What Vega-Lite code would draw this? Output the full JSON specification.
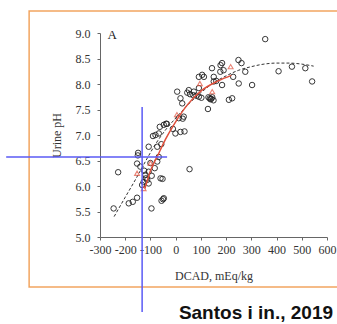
{
  "$schema": "https://vega.github.io/schema/vega-lite/v6.json",
  "width": 227,
  "height": 204,
  "autosize": {"type": "none"},
  "padding": {"left": 100, "top": 33, "right": 10, "bottom": 87},
  "background": "white",
  "config": {
    "view": {"stroke": null},
    "axis": {"grid": false, "labelFont": "Liberation Serif", "labelFontSize": 12, "labelColor": "#333", "labelOverlap": false,
      "labelFlush": false, "tickSize": 3, "tickColor": "#666", "domainColor": "#666",
      "titleFont": "Liberation Serif", "titleFontSize": 12, "titleFontWeight": "normal", "titleColor": "#333"},
    "axisX": {"labelPadding": 4, "titlePadding": 15, "labelExpr": "toString(datum.value)"},
    "axisY": {"labelPadding": 7, "titlePadding": 12}
  },
  "datasets": {
    "points": [
      {"dcad": -246, "ph": 5.56}, {"dcad": -228, "ph": 6.27}, {"dcad": -186, "ph": 5.66}, {"dcad": -170, "ph": 5.69},
      {"dcad": -153, "ph": 5.77}, {"dcad": -96, "ph": 5.56}, {"dcad": -56, "ph": 5.71}, {"dcad": -50, "ph": 5.74},
      {"dcad": -47, "ph": 5.76}, {"dcad": -52, "ph": 6.14}, {"dcad": 55, "ph": 6.33},
      {"dcad": -149, "ph": 6.65}, {"dcad": -150, "ph": 6.6}, {"dcad": -153, "ph": 6.44}, {"dcad": -140, "ph": 6.38},
      {"dcad": -120, "ph": 6.22}, {"dcad": -113, "ph": 6.12}, {"dcad": -127, "ph": 6.08}, {"dcad": -133, "ph": 6.02},
      {"dcad": -107, "ph": 6.05}, {"dcad": -107, "ph": 6.28}, {"dcad": -100, "ph": 6.45}, {"dcad": -83, "ph": 6.35},
      {"dcad": -67, "ph": 6.57}, {"dcad": -73, "ph": 6.48}, {"dcad": -60, "ph": 6.15}, {"dcad": -107, "ph": 6.77},
      {"dcad": -73, "ph": 6.77}, {"dcad": -118, "ph": 6.15}, {"dcad": -125, "ph": 6.3}, {"dcad": -95, "ph": 6.2},
      {"dcad": -80, "ph": 7.0}, {"dcad": -67, "ph": 7.03}, {"dcad": -47, "ph": 7.2}, {"dcad": -35, "ph": 7.22},
      {"dcad": -1, "ph": 7.03}, {"dcad": 19, "ph": 7.06}, {"dcad": -63, "ph": 7.16}, {"dcad": -38, "ph": 7.22},
      {"dcad": -11, "ph": 7.12}, {"dcad": 35, "ph": 7.07}, {"dcad": 28, "ph": 7.32}, {"dcad": 12, "ph": 7.33},
      {"dcad": -90, "ph": 6.98}, {"dcad": -57, "ph": 6.82}, {"dcad": 32, "ph": 7.36},
      {"dcad": 6, "ph": 7.85}, {"dcad": 19, "ph": 7.72}, {"dcad": 26, "ph": 7.62}, {"dcad": 46, "ph": 7.83},
      {"dcad": 57, "ph": 7.8}, {"dcad": 70, "ph": 7.78}, {"dcad": 82, "ph": 7.77}, {"dcad": 92, "ph": 7.92},
      {"dcad": 102, "ph": 7.73}, {"dcad": 92, "ph": 8.14}, {"dcad": 105, "ph": 8.18}, {"dcad": 112, "ph": 8.14},
      {"dcad": 128, "ph": 7.51}, {"dcad": 130, "ph": 7.74}, {"dcad": 135, "ph": 7.72}, {"dcad": 141, "ph": 7.71},
      {"dcad": 145, "ph": 7.74}, {"dcad": 138, "ph": 7.7}, {"dcad": 150, "ph": 7.68}, {"dcad": 144, "ph": 8.31},
      {"dcad": 151, "ph": 8.05}, {"dcad": 151, "ph": 8.14}, {"dcad": 178, "ph": 8.37}, {"dcad": 177, "ph": 8.24},
      {"dcad": 190, "ph": 8.27}, {"dcad": 184, "ph": 8.41}, {"dcad": 184, "ph": 7.98}, {"dcad": 161, "ph": 8.06},
      {"dcad": 211, "ph": 7.69}, {"dcad": 224, "ph": 7.72}, {"dcad": 52, "ph": 7.88}, {"dcad": 72, "ph": 7.85},
      {"dcad": 92, "ph": 7.75}, {"dcad": 228, "ph": 8.14},
      {"dcad": 250, "ph": 8.01}, {"dcad": 249, "ph": 8.47}, {"dcad": 261, "ph": 8.41}, {"dcad": 276, "ph": 8.24},
      {"dcad": 303, "ph": 7.98}, {"dcad": 355, "ph": 8.88}, {"dcad": 408, "ph": 8.25}, {"dcad": 461, "ph": 8.34},
      {"dcad": 514, "ph": 8.31}, {"dcad": 541, "ph": 8.05}
    ],
    "tri": [
      {"dcad": -127, "ph": 5.95}, {"dcad": -153, "ph": 6.25}, {"dcad": -100, "ph": 6.45}, {"dcad": 5, "ph": 7.4},
      {"dcad": 96, "ph": 8.01}, {"dcad": 145, "ph": 7.85}, {"dcad": 218, "ph": 8.34}
    ],
    "redline": [
      {"dcad": -122, "ph": 5.95}, {"dcad": -100, "ph": 6.3}, {"dcad": -71, "ph": 6.6}, {"dcad": -40, "ph": 6.92},
      {"dcad": -5, "ph": 7.22}, {"dcad": 48, "ph": 7.6}, {"dcad": 102, "ph": 7.87}, {"dcad": 168, "ph": 8.06},
      {"dcad": 221, "ph": 8.17}
    ],
    "fit": [
      {"dcad": -244, "ph": 5.4}, {"dcad": -200, "ph": 5.78}, {"dcad": -160, "ph": 6.12}, {"dcad": -120, "ph": 6.48},
      {"dcad": -80, "ph": 6.82}, {"dcad": -40, "ph": 7.1}, {"dcad": 0, "ph": 7.33}, {"dcad": 50, "ph": 7.6},
      {"dcad": 100, "ph": 7.83}, {"dcad": 150, "ph": 8.02}, {"dcad": 200, "ph": 8.16}, {"dcad": 250, "ph": 8.27},
      {"dcad": 300, "ph": 8.34}, {"dcad": 350, "ph": 8.39}, {"dcad": 400, "ph": 8.41}, {"dcad": 450, "ph": 8.41},
      {"dcad": 500, "ph": 8.39}, {"dcad": 547, "ph": 8.35}
    ]
  },
  "layer": [
    {
      "data": {"values": [{}]},
      "mark": {"type": "rect", "fill": null, "stroke": "#f2a560", "strokeWidth": 1.5, "clip": false},
      "encoding": {
        "x": {"datum": -581, "type": "quantitative", "scale": {"domain": [-300, 600], "nice": false, "zero": false},
          "axis": {"values": [-300, -200, -100, 0, 100, 200, 300, 400, 500, 600], "title": "DCAD, mEq/kg"}},
        "x2": {"datum": 660},
        "y": {"datum": 9.43, "type": "quantitative", "scale": {"domain": [5, 9], "nice": false, "zero": false},
          "axis": {"values": [5, 5.5, 6, 6.5, 7, 7.5, 8, 8.5, 9], "format": ".1f", "title": "Urine pH"}},
        "y2": {"datum": 4.02}
      }
    },
    {
      "data": {"name": "fit"},
      "mark": {"type": "line", "color": "#333", "strokeWidth": 1, "strokeDash": [3, 2], "interpolate": "monotone"},
      "encoding": {
        "x": {"field": "dcad", "type": "quantitative", "axis": {"values": [-300, -200, -100, 0, 100, 200, 300, 400, 500, 600], "title": "DCAD, mEq/kg"}},
        "y": {"field": "ph", "type": "quantitative", "axis": {"values": [5, 5.5, 6, 6.5, 7, 7.5, 8, 8.5, 9], "format": ".1f", "title": "Urine pH"}}
      }
    },
    {
      "data": {"name": "points"},
      "mark": {"type": "point", "shape": "circle", "filled": false, "size": 30, "stroke": "#222", "strokeWidth": 1, "opacity": 0.9},
      "encoding": {
        "x": {"field": "dcad", "type": "quantitative", "axis": {"values": [-300, -200, -100, 0, 100, 200, 300, 400, 500, 600], "title": "DCAD, mEq/kg"}},
        "y": {"field": "ph", "type": "quantitative", "axis": {"values": [5, 5.5, 6, 6.5, 7, 7.5, 8, 8.5, 9], "format": ".1f", "title": "Urine pH"}}
      }
    },
    {
      "data": {"name": "redline"},
      "mark": {"type": "line", "color": "#e0503c", "strokeWidth": 1.5, "interpolate": "monotone"},
      "encoding": {
        "x": {"field": "dcad", "type": "quantitative", "axis": {"values": [-300, -200, -100, 0, 100, 200, 300, 400, 500, 600], "title": "DCAD, mEq/kg"}},
        "y": {"field": "ph", "type": "quantitative", "axis": {"values": [5, 5.5, 6, 6.5, 7, 7.5, 8, 8.5, 9], "format": ".1f", "title": "Urine pH"}}
      }
    },
    {
      "data": {"name": "tri"},
      "mark": {"type": "point", "shape": "triangle-up", "filled": false, "size": 24, "stroke": "#e0503c", "strokeWidth": 1.1},
      "encoding": {
        "x": {"field": "dcad", "type": "quantitative", "axis": {"values": [-300, -200, -100, 0, 100, 200, 300, 400, 500, 600], "title": "DCAD, mEq/kg"}},
        "y": {"field": "ph", "type": "quantitative", "axis": {"values": [5, 5.5, 6, 6.5, 7, 7.5, 8, 8.5, 9], "format": ".1f", "title": "Urine pH"}}
      }
    },
    {
      "data": {"values": [{}]},
      "mark": {"type": "rule", "color": "#5a5af5", "strokeWidth": 1.5, "clip": false},
      "encoding": {
        "x": {"datum": -133, "type": "quantitative", "axis": {"values": [-300, -200, -100, 0, 100, 200, 300, 400, 500, 600], "title": "DCAD, mEq/kg"}},
        "y": {"datum": 7.55, "type": "quantitative", "axis": {"values": [5, 5.5, 6, 6.5, 7, 7.5, 8, 8.5, 9], "format": ".1f", "title": "Urine pH"}},
        "y2": {"datum": 3.53}
      }
    },
    {
      "data": {"values": [{}]},
      "mark": {"type": "rule", "color": "#5a5af5", "strokeWidth": 1.5, "clip": false},
      "encoding": {
        "y": {"datum": 6.57, "type": "quantitative", "axis": {"values": [5, 5.5, 6, 6.5, 7, 7.5, 8, 8.5, 9], "format": ".1f", "title": "Urine pH"}},
        "x": {"datum": -672, "type": "quantitative", "axis": {"values": [-300, -200, -100, 0, 100, 200, 300, 400, 500, 600], "title": "DCAD, mEq/kg"}},
        "x2": {"datum": -34}
      }
    },
    {
      "data": {"values": [{}]},
      "mark": {"type": "text", "text": "A", "font": "Liberation Serif", "fontSize": 13, "align": "center", "baseline": "middle", "color": "#222"},
      "encoding": {
        "x": {"datum": -252, "type": "quantitative", "axis": {"values": [-300, -200, -100, 0, 100, 200, 300, 400, 500, 600], "title": "DCAD, mEq/kg"}},
        "y": {"datum": 8.96, "type": "quantitative", "axis": {"values": [5, 5.5, 6, 6.5, 7, 7.5, 8, 8.5, 9], "format": ".1f", "title": "Urine pH"}}
      }
    },
    {
      "data": {"values": [{}]},
      "mark": {"type": "text", "text": "Santos i in., 2019", "font": "Liberation Sans", "fontSize": 19, "fontWeight": "bold", "align": "right", "baseline": "alphabetic", "color": "#111", "clip": false},
      "encoding": {
        "x": {"datum": 624, "type": "quantitative", "axis": {"values": [-300, -200, -100, 0, 100, 200, 300, 400, 500, 600], "title": "DCAD, mEq/kg"}},
        "y": {"datum": 3.4, "type": "quantitative", "axis": {"values": [5, 5.5, 6, 6.5, 7, 7.5, 8, 8.5, 9], "format": ".1f", "title": "Urine pH"}}
      }
    }
  ]
}
